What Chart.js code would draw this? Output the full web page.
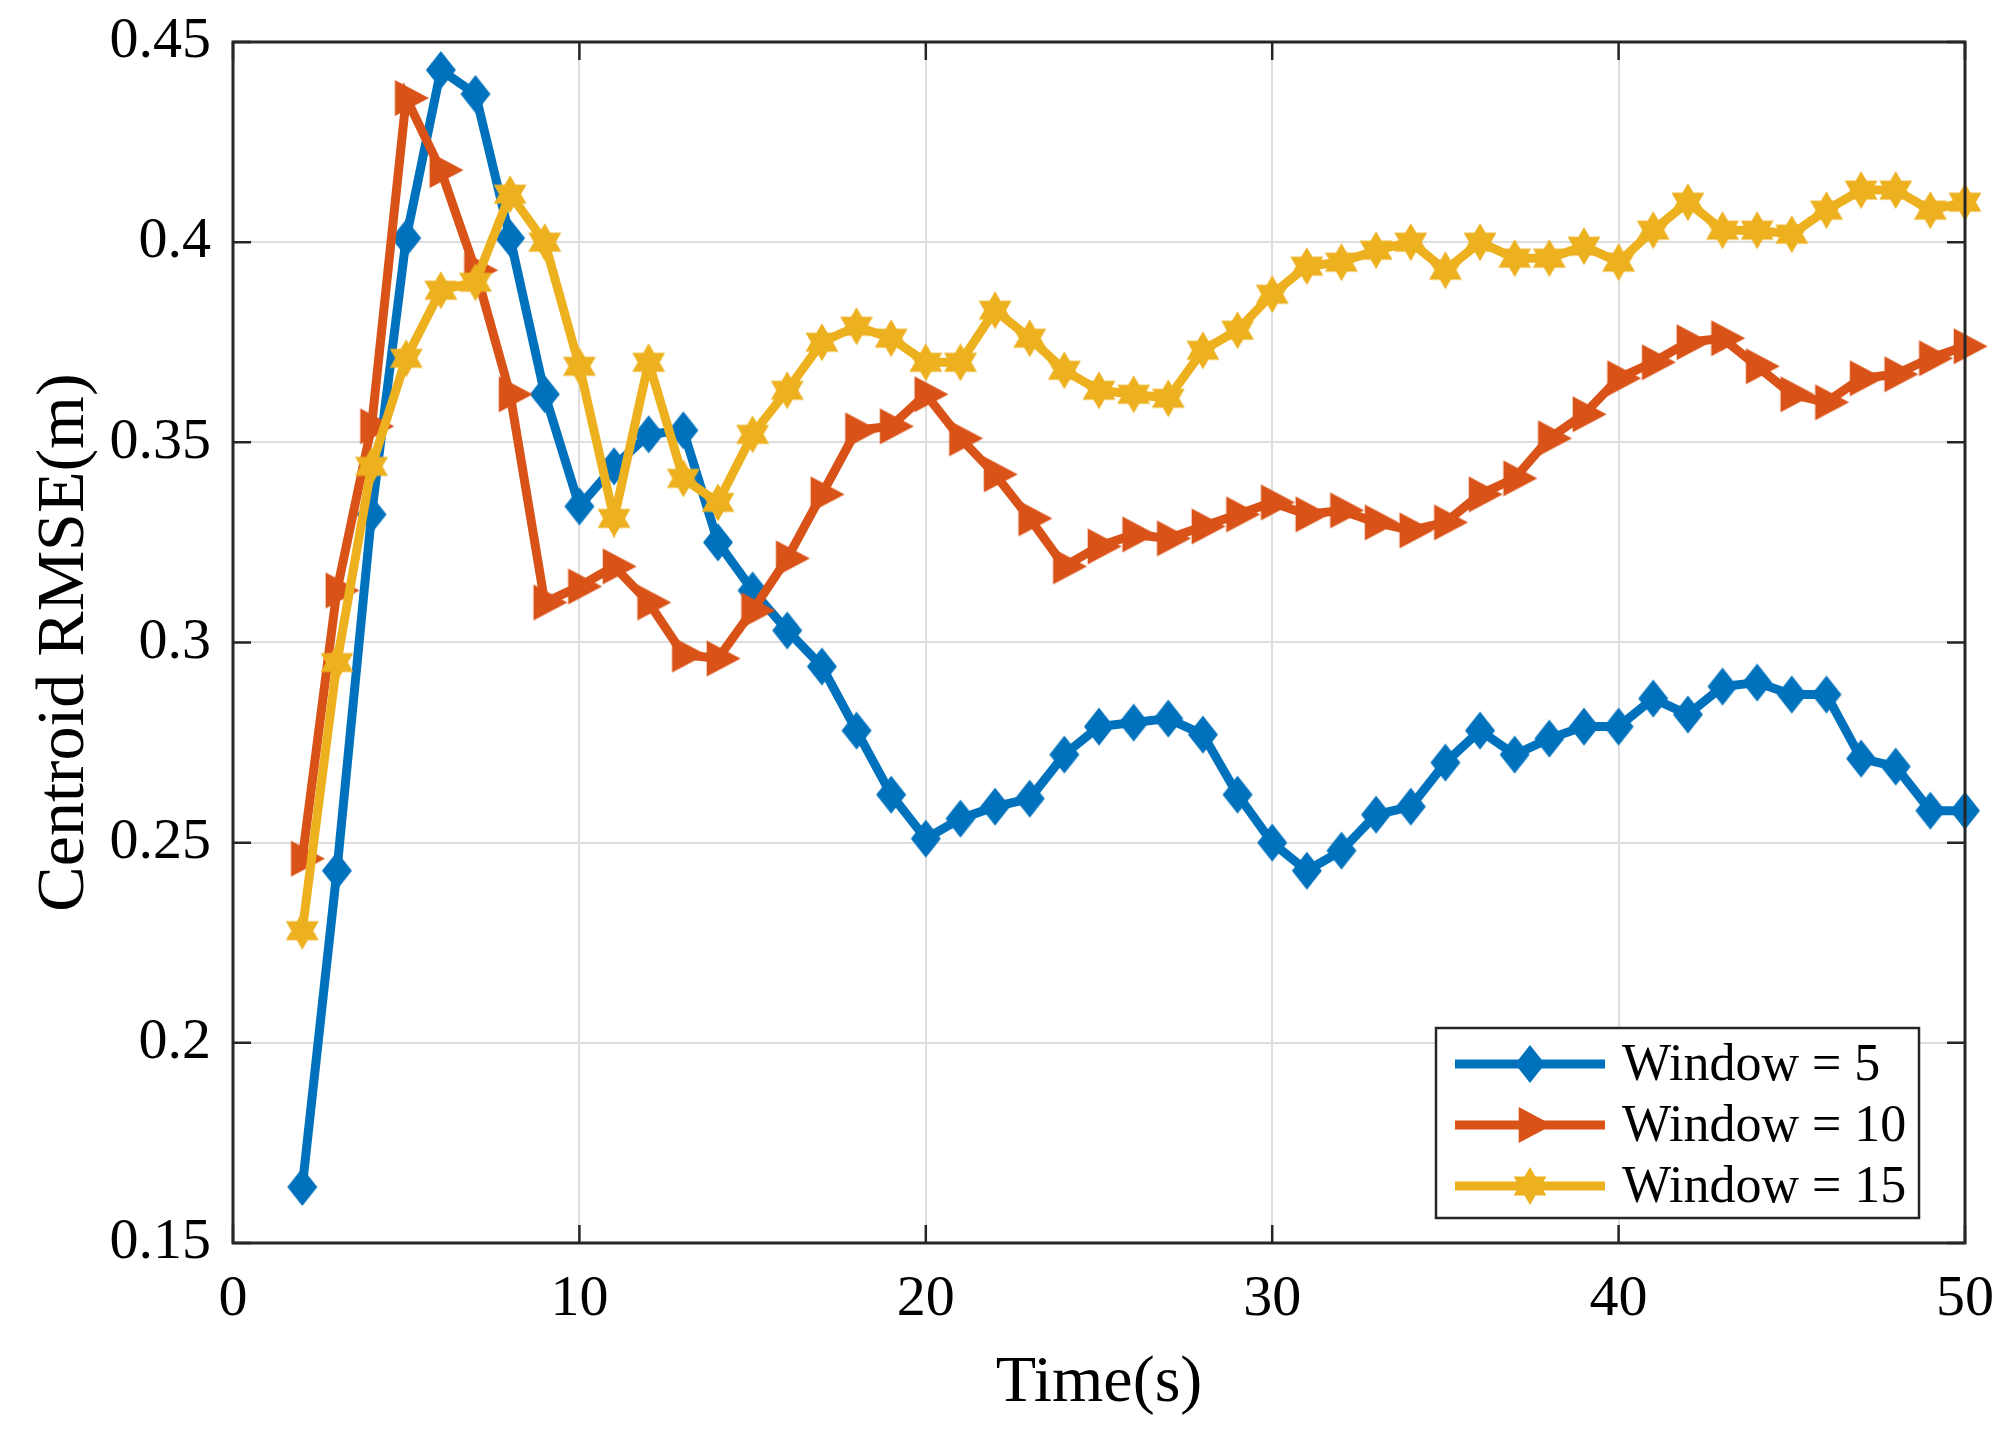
<!DOCTYPE html>
<html>
<head>
<meta charset="utf-8">
<script src="https://cdn.jsdelivr.net/npm/chart.js@4.4.0/dist/chart.umd.min.js"></script>
<style>
  html, body { margin: 0; padding: 0; background: #fff; }
  canvas { display: block; }
</style>
</head>
<body>
<canvas id="rmseChart" width="2010" height="1435"></canvas>
<script>
// data
const times = [2, 3, 4, 5, 6, 7, 8, 9, 10, 11, 12, 13, 14, 15, 16, 17, 18, 19, 20, 21, 22, 23, 24, 25, 26,
  27, 28, 29, 30, 31, 32, 33, 34, 35, 36, 37, 38, 39, 40, 41, 42, 43, 44, 45, 46, 47, 48, 49, 50];

const window5 = [0.164, 0.243, 0.332, 0.401, 0.443, 0.437, 0.401, 0.362, 0.334, 0.344, 0.352, 0.353,
  0.325, 0.313, 0.303, 0.294, 0.278, 0.262, 0.251, 0.256, 0.259, 0.261, 0.272, 0.279, 0.280, 0.281,
  0.277, 0.262, 0.250, 0.243, 0.248, 0.257, 0.259, 0.270, 0.278, 0.272, 0.276, 0.279, 0.279, 0.286,
  0.282, 0.289, 0.290, 0.287, 0.287, 0.271, 0.269, 0.258, 0.258];

const window10 = [0.246, 0.313, 0.354, 0.436, 0.418, 0.393, 0.362, 0.310, 0.314, 0.319, 0.310, 0.297,
  0.296, 0.308, 0.321, 0.337, 0.353, 0.354, 0.362, 0.351, 0.342, 0.331, 0.319, 0.324, 0.327, 0.326,
  0.329, 0.332, 0.335, 0.332, 0.333, 0.330, 0.328, 0.330, 0.337, 0.341, 0.351, 0.357, 0.366, 0.370,
  0.375, 0.376, 0.369, 0.362, 0.360, 0.366, 0.367, 0.371, 0.374];

const window15 = [0.228, 0.295, 0.344, 0.371, 0.388, 0.390, 0.412, 0.400, 0.369, 0.331, 0.370, 0.341,
  0.335, 0.352, 0.363, 0.375, 0.379, 0.376, 0.370, 0.370, 0.383, 0.376, 0.368, 0.363, 0.362, 0.361,
  0.373, 0.378, 0.387, 0.394, 0.395, 0.398, 0.400, 0.393, 0.400, 0.396, 0.396, 0.399, 0.395, 0.403,
  0.410, 0.403, 0.403, 0.402, 0.408, 0.413, 0.413, 0.408, 0.410];

const seriesLabels = ["Window = 5", "Window = 10", "Window = 15"];
const xTickLabels = ["0", "10", "20", "30", "40", "50"];
const yTickLabels = ["0.15", "0.2", "0.25", "0.3", "0.35", "0.4", "0.45"];

const colors = ["#0072BD", "#D95319", "#EDB120"];
const axisColor = "#262626";
const fontFamily = "'Liberation Serif', 'Times New Roman', serif";

// marker images (MATLAB style diamond, right triangle, hexagram)
function makeDiamond(color) {
  const c = document.createElement("canvas");
  c.width = 32; c.height = 40;
  const g = c.getContext("2d");
  g.fillStyle = color;
  g.beginPath();
  g.moveTo(16, 1); g.lineTo(31, 20); g.lineTo(16, 39); g.lineTo(1, 20);
  g.closePath(); g.fill();
  return c;
}

function makeTriangleRight(color) {
  const w = 34, h = 36;
  const c = document.createElement("canvas");
  c.width = Math.ceil(w * 4 / 3) + 2; c.height = h + 2;
  const g = c.getContext("2d");
  const cx = c.width / 2, cy = c.height / 2;
  g.fillStyle = color;
  g.beginPath();
  g.moveTo(cx - w / 3, cy - h / 2);
  g.lineTo(cx + 2 * w / 3, cy);
  g.lineTo(cx - w / 3, cy + h / 2);
  g.closePath(); g.fill();
  return c;
}

function makeHexagram(color) {
  const R = 19, r = R / Math.sqrt(3);
  const c = document.createElement("canvas");
  c.width = 2 * R + 2; c.height = 2 * R + 2;
  const g = c.getContext("2d");
  const cx = c.width / 2, cy = c.height / 2;
  g.fillStyle = color;
  g.beginPath();
  for (let i = 0; i < 12; i++) {
    const a = -Math.PI / 2 + i * Math.PI / 6;
    const rad = i % 2 === 0 ? R : r;
    const px = cx + rad * Math.cos(a), py = cy + rad * Math.sin(a);
    if (i === 0) g.moveTo(px, py); else g.lineTo(px, py);
  }
  g.closePath(); g.fill();
  return c;
}

const markers = [makeDiamond(colors[0]), makeTriangleRight(colors[1]), makeHexagram(colors[2])];

function toPoints(values) {
  return values.map((v, i) => ({ x: times[i], y: v }));
}

// box, inner ticks (MATLAB look)
const boxPlugin = {
  id: "boxPlugin",
  afterDatasetsDraw(chart) {
    const { ctx, chartArea: a, scales } = chart;
    const tickLen = 18;
    ctx.save();
    ctx.strokeStyle = axisColor;
    ctx.lineWidth = 3;
    ctx.strokeRect(a.left, a.top, a.right - a.left, a.bottom - a.top);
    ctx.lineWidth = 2.5;
    ctx.beginPath();
    scales.x.ticks.forEach(t => {
      const px = scales.x.getPixelForValue(t.value);
      ctx.moveTo(px, a.bottom); ctx.lineTo(px, a.bottom - tickLen);
      ctx.moveTo(px, a.top); ctx.lineTo(px, a.top + tickLen);
    });
    scales.y.ticks.forEach(t => {
      const py = scales.y.getPixelForValue(t.value);
      ctx.moveTo(a.left, py); ctx.lineTo(a.left + tickLen, py);
      ctx.moveTo(a.right, py); ctx.lineTo(a.right - tickLen, py);
    });
    ctx.stroke();
    ctx.restore();
  },
  afterDraw(chart) {
    // legend box in the lower right corner of the axes
    const { ctx, chartArea: a } = chart;
    const boxW = 483, boxH = 190;
    const bx = a.right - 46 - boxW, by = a.bottom - 25 - boxH;
    ctx.save();
    ctx.fillStyle = "#fff";
    ctx.fillRect(bx, by, boxW, boxH);
    ctx.strokeStyle = axisColor;
    ctx.lineWidth = 2.5;
    ctx.strokeRect(bx, by, boxW, boxH);
    ctx.font = "52px " + fontFamily;
    ctx.textBaseline = "middle";
    ctx.fillStyle = "#000";
    chart.data.datasets.forEach((ds, i) => {
      const cy = by + 36 + i * 61;
      ctx.strokeStyle = ds.borderColor;
      ctx.lineWidth = ds.borderWidth;
      ctx.beginPath();
      ctx.moveTo(bx + 19, cy); ctx.lineTo(bx + 169, cy);
      ctx.stroke();
      const m = ds.pointStyle;
      ctx.drawImage(m, bx + 94 - m.width / 2, cy - m.height / 2);
      ctx.fillText(ds.label, bx + 186, cy + 2);
    });
    ctx.restore();
  }
};

new Chart(document.getElementById("rmseChart"), {
  type: "line",
  data: {
    datasets: [
      { label: seriesLabels[0], data: toPoints(window5), borderColor: colors[0], backgroundColor: colors[0],
        borderWidth: 9, pointStyle: markers[0], order: 3 },
      { label: seriesLabels[1], data: toPoints(window10), borderColor: colors[1], backgroundColor: colors[1],
        borderWidth: 9, pointStyle: markers[1], order: 2 },
      { label: seriesLabels[2], data: toPoints(window15), borderColor: colors[2], backgroundColor: colors[2],
        borderWidth: 9, pointStyle: markers[2], order: 1 }
    ]
  },
  options: {
    responsive: false,
    animation: false,
    devicePixelRatio: 1,
    clip: false,
    layout: { padding: { top: 42, right: 45, left: 0, bottom: 0 } },
    elements: { line: { tension: 0 }, point: { radius: 10 } },
    plugins: { legend: { display: false }, tooltip: { enabled: false } },
    scales: {
      x: {
        type: "linear",
        min: 0, max: 50,
        ticks: {
          stepSize: 10,
          color: "#000",
          font: { family: fontFamily, size: 58 },
          padding: 22,
          maxRotation: 0,
          callback: (v, i) => xTickLabels[i]
        },
        grid: { color: "#dedede", lineWidth: 2, drawTicks: false },
        border: { display: false },
        title: {
          display: true, text: "Time(s)", color: "#000",
          font: { family: fontFamily, size: 66 },
          padding: { top: 0, bottom: 12 }
        },
        afterFit(scale) {
          scale.height = 192;
          scale.paddingLeft = 0;
          scale.paddingRight = 0;
        }
      },
      y: {
        min: 0.15, max: 0.45,
        ticks: {
          stepSize: 0.05,
          color: "#000",
          font: { family: fontFamily, size: 58 },
          padding: 22,
          callback: (v, i) => yTickLabels[i]
        },
        grid: { color: "#dedede", lineWidth: 2, drawTicks: false },
        border: { display: false },
        title: {
          display: true, text: "Centroid RMSE(m)", color: "#000",
          font: { family: fontFamily, size: 68 },
          padding: { top: 24, bottom: 0 }
        },
        afterFit(scale) {
          scale.width = 233;
          scale.paddingTop = 0;
          scale.paddingBottom = 0;
        }
      }
    }
  },
  plugins: [boxPlugin]
});
</script>
</body>
</html>
